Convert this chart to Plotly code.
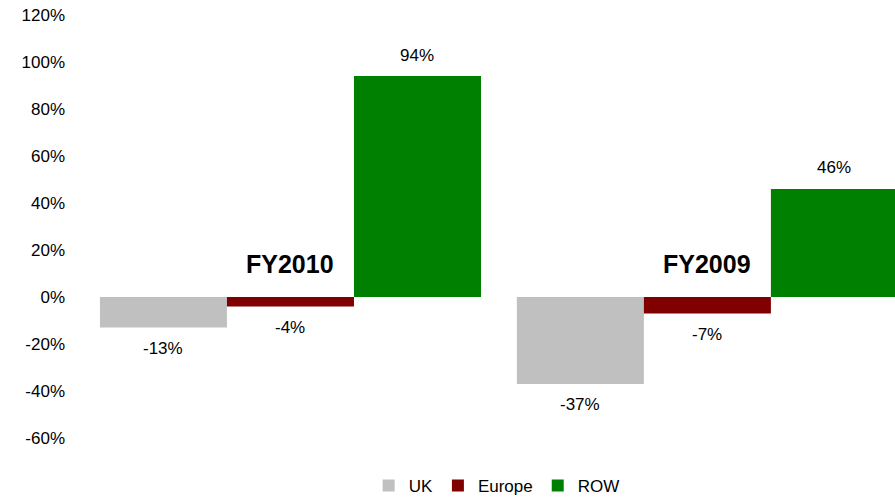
import plotly.graph_objects as go

# Year-on-year change by region
periods = ["FY2010", "FY2009"]
regions = ["UK", "Europe", "ROW"]
uk = [-13, -37]
europe = [-4, -7]
row = [94, 46]
series = [uk, europe, row]
colors = ["#C0C0C0", "#800000", "#008000"]
tick_vals = [-60, -40, -20, 0, 20, 40, 60, 80, 100, 120]
tick_text = [f"{v}%" for v in tick_vals]

FONT = "Liberation Sans, Arial, sans-serif"
BARGAP = 0.086

fig = go.Figure()
for name, vals, col in zip(regions, series, colors):
    fig.add_trace(go.Bar(
        name=name, x=[0, 1], y=vals, marker=dict(color=col, line=dict(width=0)),
        hoverinfo="skip",
    ))

# value labels outside each bar end
group_w = 1 - BARGAP
n = len(regions)
for j, vals in enumerate(series):
    off = (j - (n - 1) / 2) * group_w / n
    for i, v in enumerate(vals):
        fig.add_annotation(
            x=i + off, y=v, text=f"{v}%", showarrow=False,
            yshift=21 if v >= 0 else -21, yanchor="middle",
            font=dict(family=FONT, size=17, color="#000000"),
        )

# period labels above the zero line
for i, p in enumerate(periods):
    fig.add_annotation(
        x=i, y=0, text=f"<b>{p}</b>", showarrow=False, yanchor="middle", yshift=33,
        font=dict(family=FONT, size=25, color="#000000"),
    )

fig.update_layout(
    width=895, height=497,
    margin=dict(l=82, r=0, t=15, b=59, autoexpand=False),
    barmode="group", bargap=BARGAP, bargroupgap=0,
    paper_bgcolor="white", plot_bgcolor="white",
    font=dict(family=FONT, size=17, color="#000000"),
    showlegend=True,
    legend=dict(orientation="h", x=0.51, xanchor="center",
                yref="container", y=0.022, yanchor="middle",
                font=dict(family=FONT, size=17), itemwidth=30, traceorder="normal",
                tracegroupgap=0),
    xaxis=dict(range=[-0.5, 1.45], showticklabels=False, showgrid=False,
               zeroline=False, showline=False, ticks=""),
    yaxis=dict(range=[-60, 120], tickvals=tick_vals, ticktext=tick_text,
               showgrid=False, zeroline=False, showline=False, ticks="",
               ticklabelstandoff=16, tickfont=dict(family=FONT, size=17)),
)

fig.write_html("out.html")
